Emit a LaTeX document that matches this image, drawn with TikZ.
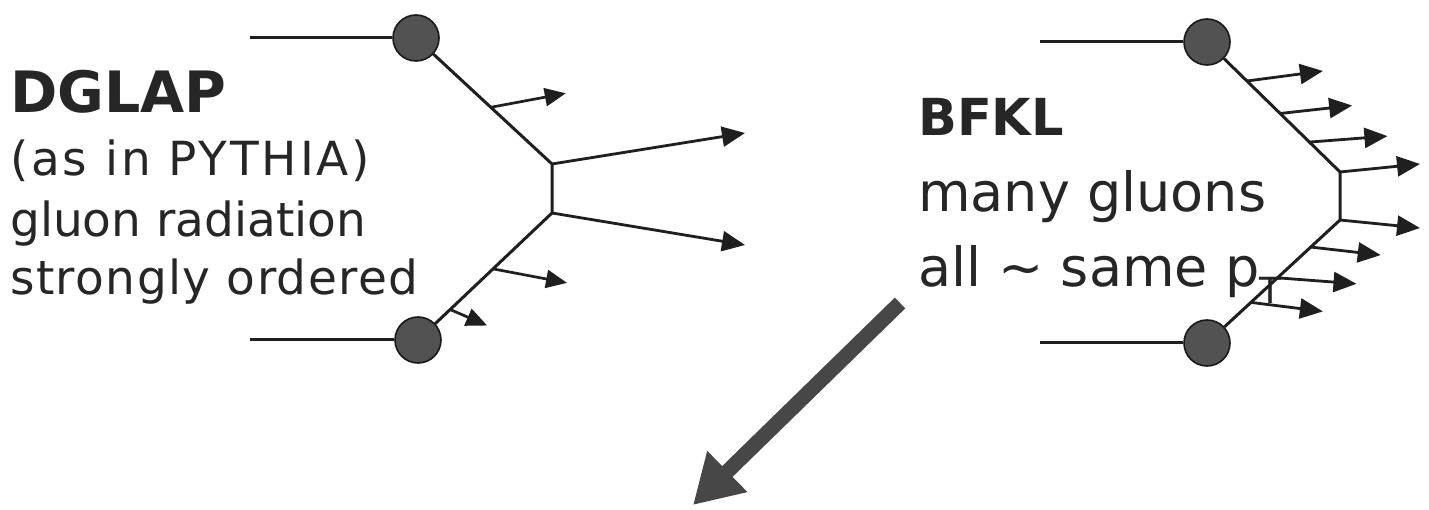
\documentclass[tikz,border=0pt]{standalone}
\usepackage{fontspec}
\setmainfont{DejaVu Sans}
\usetikzlibrary{arrows.meta,calc}
\begin{document}
\begin{tikzpicture}[x=1pt,y=-1pt,
  prop/.style={line width=3pt, draw=black!88, line join=round},
  jet/.style={line width=2.8pt, draw=black!88, -{Triangle[length=23pt,width=20pt]}},
  smalljet/.style={line width=2.7pt, draw=black!88, -{Triangle[length=21pt,width=18pt]}},
  blob/.style={circle, minimum size=46pt, inner sep=0pt, draw=black!90, line width=1.6pt, fill=black!68},
  bigarrow/.style={line width=15pt, draw=black!72, -{Triangle[length=48pt,width=54pt]}},
  txt/.style={anchor=base west, inner sep=0pt, text=black!85},
  lefttxt/.style={txt, font=\fontsize{47}{47}\selectfont},
  righttxt/.style={txt, font=\fontsize{54}{54}\selectfont}
]
\useasboundingbox[fill=white] (0,0) rectangle (1429,510);

% ---------- DGLAP text ----------
\node[txt, font=\fontsize{57}{57}\selectfont\bfseries] (dglap) at (10,113) {DGLAP};
\node[lefttxt] (l1) at (10,176) {\addfontfeature{LetterSpace=6}(as in PYTHIA)};
\node[lefttxt] (l2) at (10,237) {gluon radiation};
\node[lefttxt] (l3) at (10,295) {\addfontfeature{LetterSpace=3}strongly ordered};

% ---------- DGLAP diagram ----------
\node[blob] (LT) at (416,38) {};
\node[blob] (LB) at (418,340) {};
\coordinate (LTin) at (250,38);
\coordinate (LBin) at (250,340);
\coordinate (LC1) at (552,164);
\coordinate (LC2) at (552,213);
\draw[prop] (LTin) -- (LT);
\draw[prop] (LBin) -- (LB);
\draw[prop] (LT) -- (LC1) -- (LC2) -- (LB);
\coordinate (LJ1) at (745,133);
\coordinate (LJ2) at (745,245);
\draw[jet] (LC1) -- (LJ1);
\draw[jet] (LC2) -- (LJ2);
\coordinate (ls1) at ($(LT)!0.55!(LC1)$);
\coordinate (le1) at ($(ls1)+(75,-14)$);
\coordinate (ls2) at ($(LC2)!0.44!(LB)$);
\coordinate (le2) at ($(ls2)+(74,14)$);
\coordinate (ls3) at ($(LC2)!0.76!(LB)$);
\coordinate (le3) at ($(ls3)+(37,16)$);
\draw[smalljet] (ls1) -- (le1);
\draw[smalljet] (ls2) -- (le2);
\draw[smalljet] (ls3) -- (le3);

% ---------- BFKL text ----------
\node[txt, font=\fontsize{51}{51}\selectfont\bfseries] (bfkl) at (918,136) {BFKL};
\node[righttxt] (r1) at (918,212) {many gluons};
\node[righttxt] (r2) at (918,287) {all \textasciitilde{} same p\raisebox{-17pt}{\fontsize{36}{36}\selectfont T}};

% ---------- BFKL diagram ----------
\node[blob] (RT) at (1207,42) {};
\node[blob] (RB) at (1207,343) {};
\coordinate (RTin) at (1040,42);
\coordinate (RBin) at (1040,343);
\coordinate (RC1) at (1340,172);
\coordinate (RC2) at (1340,220);
\draw[prop] (RTin) -- (RT);
\draw[prop] (RBin) -- (RB);
\draw[prop] (RT) -- (RC1) -- (RC2) -- (RB);
\coordinate (RJ1) at (1420,164);
\coordinate (RJ2) at (1420,228);
\draw[jet] (RC1) -- (RJ1);
\draw[jet] (RC2) -- (RJ2);
\coordinate (rs1) at ($(RT)!0.30!(RC1)$);
\coordinate (rs2) at ($(RT)!0.55!(RC1)$);
\coordinate (rs3) at ($(RT)!0.77!(RC1)$);
\coordinate (re1) at ($(rs1)+(76,-10)$);
\coordinate (re2) at ($(rs2)+(72,-8)$);
\coordinate (re3) at ($(rs3)+(78,-6)$);
\draw[jet] (rs1) -- (re1);
\draw[jet] (rs2) -- (re2);
\draw[jet] (rs3) -- (re3);
\coordinate (rs4) at ($(RC2)!0.22!(RB)$);
\coordinate (rs5) at ($(RC2)!0.47!(RB)$);
\coordinate (rs6) at ($(RC2)!0.67!(RB)$);
\coordinate (re4) at ($(rs4)+(70,8)$);
\coordinate (re5) at ($(rs5)+(79,6)$);
\coordinate (re6) at ($(rs6)+(72,9)$);
\draw[jet] (rs4) -- (re4);
\draw[jet] (rs5) -- (re5);
\draw[jet] (rs6) -- (re6);

% ---------- big arrow ----------
\coordinate (Bs) at (900,303);
\coordinate (Be) at (693,505);
\draw[bigarrow] (Bs) -- (Be);
\end{tikzpicture}
\end{document}
